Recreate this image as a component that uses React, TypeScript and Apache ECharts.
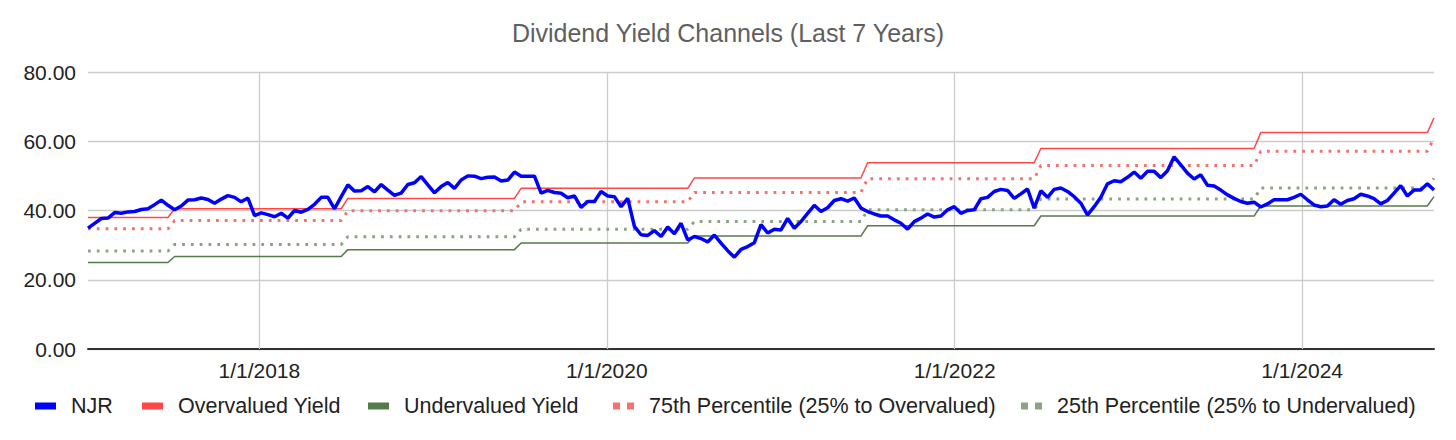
import React, { useEffect, useRef } from "react";
import * as echarts from "echarts";

// Biweekly observations starting 2017-01-06
const START_DATE = Date.UTC(2017, 0, 6);
const STEP_DAYS = 14;
const DAY_MS = 86400000;

const njrYield = [
  34.9, 36.3, 37.7, 37.8, 39.4, 39.2, 39.6, 39.7, 40.3, 40.5,
  41.7, 43.0, 41.5, 40.2, 41.3, 43.0, 43.1, 43.6, 43.2, 42.1,
  43.3, 44.3, 43.8, 42.5, 43.6, 38.5, 39.3, 38.8, 38.2, 39.2,
  37.8, 40.0, 39.5, 40.3, 41.8, 43.8, 43.8, 40.5, 44.0, 47.4,
  45.6, 45.7, 46.9, 45.4, 47.5, 45.9, 44.4, 45.0, 47.5, 48.0,
  49.8, 47.4, 45.1, 46.9, 48.1, 46.4, 48.8, 50.0, 49.9, 49.2,
  49.6, 49.7, 48.5, 48.8, 51.1, 49.9, 49.9, 49.9, 45.0, 45.8,
  45.2, 45.0, 43.7, 44.2, 40.9, 42.6, 42.6, 45.5, 44.2, 44.0,
  41.1, 43.5, 35.4, 33.0, 32.8, 34.2, 32.5, 35.2, 33.3, 36.3,
  31.5, 32.5, 31.9, 30.9, 32.9, 30.6, 28.4, 26.5, 28.8, 29.6,
  30.7, 35.9, 33.5, 34.6, 34.4, 37.7, 34.9, 36.8, 39.2, 41.5,
  39.7, 40.8, 42.9, 43.4, 42.7, 43.6, 40.7, 39.7, 39.0, 38.4,
  38.4, 37.3, 36.3, 34.6, 36.8, 37.8, 39.0, 38.1, 38.4, 40.2,
  41.1, 39.2, 40.0, 40.2, 43.4, 43.8, 45.5, 46.1, 45.8, 43.5,
  44.8, 46.2, 40.7, 45.7, 43.8, 46.1, 46.5, 45.5, 44.0, 42.1,
  38.7, 41.1, 43.8, 47.7, 48.6, 48.3, 49.6, 51.1, 49.3, 51.3,
  51.3, 49.5, 51.5, 55.5, 53.2, 50.8, 49.1, 50.3, 47.3, 47.1,
  45.9, 44.5, 43.5, 42.6, 42.1, 42.4, 41.0, 41.9, 43.1, 43.1,
  43.1, 43.8, 44.7, 43.1, 41.6, 41.1, 41.3, 43.1, 41.8, 42.9,
  43.4, 44.7, 44.2, 43.4, 41.9, 42.9, 45.0, 47.2, 44.2, 45.9,
  45.9, 47.7, 45.9,
];

// Index of the last observation before each channel reset
const channelStepIdx = [12, 38, 64, 90, 116, 142, 175, 201];
const overvaluedLevels = [38.0, 40.5, 43.5, 46.4, 49.4, 53.8, 57.9, 62.5, 66.7];
const p75Levels = [34.7, 37.1, 39.9, 42.5, 45.2, 49.2, 53.0, 57.1, 60.9];
const p25Levels = [28.3, 30.2, 32.4, 34.6, 36.8, 40.2, 43.3, 46.5, 49.3];
const undervaluedLevels = [25.0, 26.7, 28.7, 30.6, 32.6, 35.6, 38.4, 41.3, 44.0];

const xTickValues = [Date.UTC(2018, 0, 1), Date.UTC(2020, 0, 1), Date.UTC(2022, 0, 1), Date.UTC(2024, 0, 1)];
const xTickLabels = ["1/1/2018", "1/1/2020", "1/1/2022", "1/1/2024"];

const seriesNames = [
  "NJR",
  "Overvalued Yield",
  "Undervalued Yield",
  "75th Percentile (25% to Overvalued)",
  "25th Percentile (25% to Undervalued)",
];

const FONT = "'Liberation Sans', Arial, sans-serif";

const dateAt = (i: number) => START_DATE + i * STEP_DAYS * DAY_MS;

function channelData(levels: number[]) {
  const last = njrYield.length - 1;
  const pts: [number, number][] = [];
  levels.forEach((v, s) => {
    const a = s === 0 ? 0 : channelStepIdx[s - 1] + 1;
    const b = s < channelStepIdx.length ? channelStepIdx[s] : last;
    pts.push([dateAt(a), v]);
    if (b !== a) pts.push([dateAt(b), v]);
  });
  return pts;
}

export default function App() {
  const ref = useRef<HTMLDivElement>(null);

  useEffect(() => {
    document.body.style.margin = "0";
    if (!ref.current) return;
    const chart = echarts.init(ref.current, undefined, { renderer: "svg" });
    const njrData = njrYield.map((v, i) => [dateAt(i), v]);
    const dotted = [2.8, 6];
    const twoSquares = "path://M0,0H7V7H0Z M14,0H21V7H14Z";

    const colors = ["#0000ff", "#ff4747", "#557a4b", "#f27272", "#8ba384"];
    const icons = ["rect", "rect", "rect", twoSquares, twoSquares];
    const legendLeft = [35, 142, 368, 613, 1021];

    chart.setOption({
      animation: false,
      backgroundColor: "#ffffff",
      title: {
        text: "Dividend Yield Channels (Last 7 Years)",
        left: "center",
        top: 15,
        textStyle: { fontFamily: FONT, fontSize: 25, fontWeight: "normal", color: "#5f5f5f" },
      },
      legend: seriesNames.map((name, i) => ({
        left: legendLeft[i],
        top: 395,
        itemWidth: 21,
        itemHeight: 7,
        padding: 0,
        textStyle: { fontFamily: FONT, fontSize: 21.5, color: "#222222", padding: [0, 0, 0, 10] },
        data: [{ name, icon: icons[i], itemStyle: { color: colors[i], borderWidth: 0 } }],
      })),
      grid: { left: 88, right: 22, top: 72, bottom: 91, containLabel: false },
      xAxis: {
        type: "time",
        min: dateAt(0),
        max: dateAt(njrYield.length - 1),
        axisLine: { show: true, lineStyle: { color: "#333333", width: 2 } },
        axisTick: { show: false },
        splitLine: { show: false },
        axisLabel: { show: false },
      },
      yAxis: {
        type: "value",
        min: 0,
        max: 80,
        interval: 20,
        axisLine: { show: false },
        axisTick: { show: false },
        splitLine: { show: true, lineStyle: { color: "#cccccc", width: 1.3 } },
        axisLabel: {
          fontFamily: FONT,
          fontSize: 21,
          color: "#222222",
          margin: 12,
          formatter: (v: number) => v.toFixed(2),
        },
      },
      series: [
        {
          name: seriesNames[0],
          type: "line",
          data: njrData,
          symbol: "none",
          z: 4,
          lineStyle: { color: colors[0], width: 3.5 },
          itemStyle: { color: colors[0] },
        },
        {
          name: seriesNames[1],
          type: "line",
          data: channelData(overvaluedLevels),
          symbol: "none",
          lineStyle: { color: colors[1], width: 1.5 },
          itemStyle: { color: colors[1] },
        },
        {
          name: seriesNames[2],
          type: "line",
          data: channelData(undervaluedLevels),
          symbol: "none",
          lineStyle: { color: colors[2], width: 1.5 },
          itemStyle: { color: colors[2] },
        },
        {
          name: seriesNames[3],
          type: "line",
          data: channelData(p75Levels),
          symbol: "none",
          lineStyle: { color: colors[3], width: 3, type: dotted, cap: "butt" },
          itemStyle: { color: colors[3] },
        },
        {
          name: seriesNames[4],
          type: "line",
          data: channelData(p25Levels),
          symbol: "none",
          lineStyle: { color: colors[4], width: 3, type: dotted, cap: "butt" },
          itemStyle: { color: colors[4] },
        },
        {
          name: "gridlines",
          type: "line",
          data: njrData,
          silent: true,
          symbol: "none",
          z: 1,
          lineStyle: { opacity: 0, width: 0 },
          markLine: {
            silent: true,
            z: 1,
            symbol: ["none", "none"],
            label: {
              show: true,
              position: "start",
              distance: 11,
              fontFamily: FONT,
              fontSize: 21,
              color: "#222222",
              formatter: (p: any) => xTickLabels[p.dataIndex] ?? "",
            },
            lineStyle: { color: "#cccccc", width: 1.3, type: "solid" },
            data: xTickValues.map((v) => ({ xAxis: v })),
          },
        },
      ],
    });
    return () => chart.dispose();
  }, []);

  return <div ref={ref} style={{ width: 1456, height: 440 }} />;
}
